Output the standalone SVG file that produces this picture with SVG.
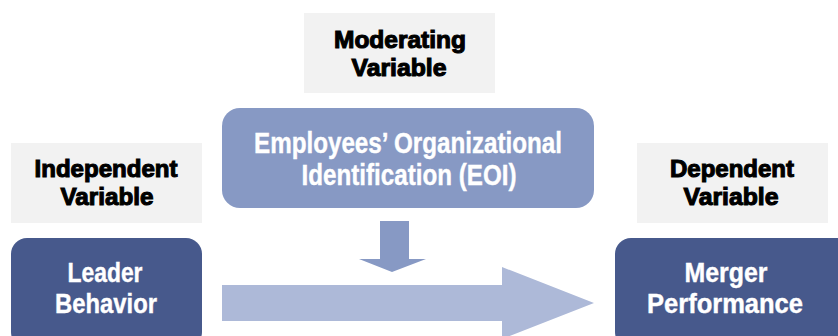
<svg xmlns="http://www.w3.org/2000/svg" width="838" height="336" viewBox="0 0 838 336">
<style>
.lbl{fill:#f2f2f2}
.lt{font-family:"Liberation Sans","Arial",sans-serif;font-weight:bold;font-size:24px;fill:#000;stroke:#000;stroke-width:1.1;text-anchor:middle}
.dark{fill:#47598c}
.light{fill:#8799c4}
.nt{font-family:"Liberation Sans Narrow","Liberation Sans","Arial",sans-serif;font-weight:bold;fill:#fff;stroke:#fff;stroke-width:0.4;text-anchor:middle}
</style>
<g id="label-moderating">
<rect class="lbl" x="304" y="13" width="191" height="80"/>
<text class="lt" x="400" y="48" textLength="132" lengthAdjust="spacingAndGlyphs">Moderating</text>
<text class="lt" x="399" y="76" textLength="95" lengthAdjust="spacingAndGlyphs">Variable</text>
</g>
<g id="label-independent">
<rect class="lbl" x="11" y="143" width="191" height="80"/>
<text class="lt" x="106" y="177" textLength="143" lengthAdjust="spacingAndGlyphs">Independent</text>
<text class="lt" x="107" y="205" textLength="93" lengthAdjust="spacingAndGlyphs">Variable</text>
</g>
<g id="label-dependent">
<rect class="lbl" x="637" y="143" width="191" height="80"/>
<text class="lt" x="732" y="177" textLength="124" lengthAdjust="spacingAndGlyphs">Dependent</text>
<text class="lt" x="731" y="205" textLength="95" lengthAdjust="spacingAndGlyphs">Variable</text>
</g>
<g id="node-eoi">
<rect class="light" x="222" y="108" width="372" height="100" rx="18"/>
<text class="nt" x="408" y="153" font-size="29" textLength="308" lengthAdjust="spacingAndGlyphs">Employees’ Organizational</text>
<text class="nt" x="409" y="185" font-size="29" textLength="215" lengthAdjust="spacingAndGlyphs">Identification (EOI)</text>
</g>
<g id="node-leader">
<rect class="dark" x="11" y="238" width="191" height="110" rx="16"/>
<text class="nt" x="105" y="282" font-size="27" textLength="75" lengthAdjust="spacingAndGlyphs">Leader</text>
<text class="nt" x="106" y="313" font-size="27" textLength="102" lengthAdjust="spacingAndGlyphs">Behavior</text>
</g>
<g id="node-merger">
<rect class="dark" x="615" y="238" width="250" height="110" rx="16"/>
<text class="nt" x="726" y="282" font-size="27" textLength="83" lengthAdjust="spacingAndGlyphs">Merger</text>
<text class="nt" x="725" y="313" font-size="27" textLength="156" lengthAdjust="spacingAndGlyphs">Performance</text>
</g>
<g id="connectors">
<polygon fill="#8799c4" points="380,221 409,221 409,259 426,259 392,272 359,259 380,259"/>
<polygon fill="#adb9d8" points="222,285 502,285 502,267 594,303 502,339 502,321 222,321"/>
</g>
</svg>
